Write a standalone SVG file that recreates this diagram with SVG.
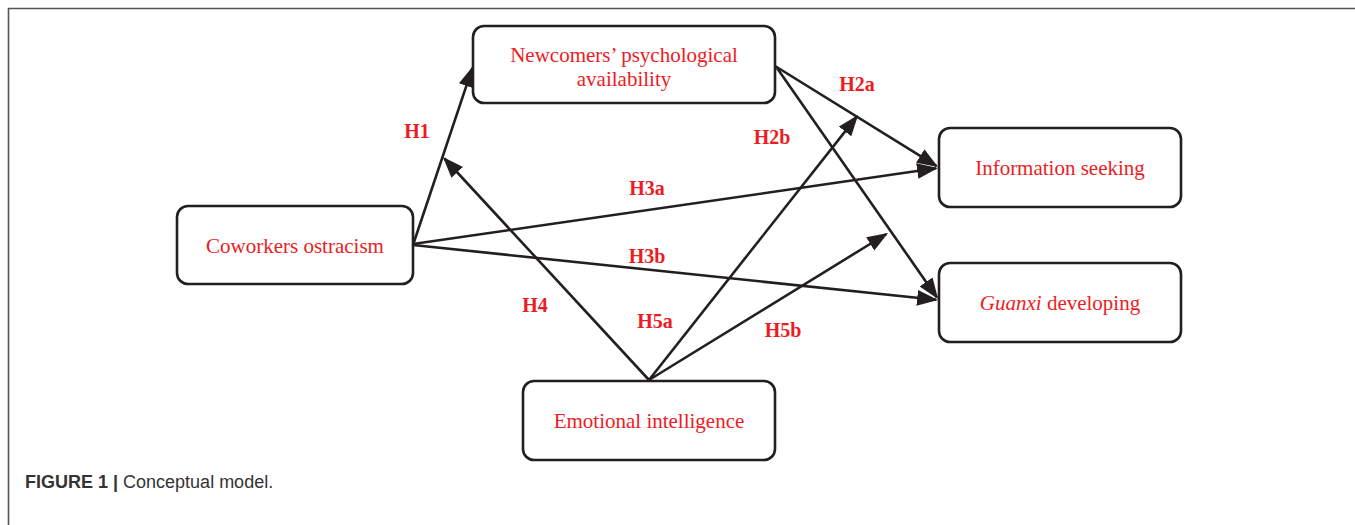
<svg xmlns="http://www.w3.org/2000/svg" width="1355" height="525" viewBox="0 0 1355 525">
<style>
.box{fill:#fff;stroke:#231f20;stroke-width:2.6}
.nt{font-family:"Liberation Serif","Times New Roman",serif;font-size:21px;fill:#ed1c24;text-anchor:middle}
.lb{font-family:"Liberation Serif","Times New Roman",serif;font-size:20px;font-weight:bold;fill:#ed1c24;text-anchor:middle}
.cn line{stroke:#231f20;stroke-width:2.6;marker-end:url(#ah)}
.cap{font-family:"Liberation Sans",Arial,sans-serif;font-size:18px;fill:#333}
</style>
<defs>
<marker id="ah" markerUnits="userSpaceOnUse" markerWidth="21" markerHeight="16" refX="18" refY="7.5" orient="auto" viewBox="0 0 20 15">
<path d="M0,0 L20,7.5 L0,15 z" fill="#231f20"/>
</marker>
</defs>
<rect width="1355" height="525" fill="#fff"/>
<g id="frame">
<path d="M8.5,525 V8.5 H1355" fill="none" stroke="#555" stroke-width="1.6"/>
</g>
<g id="connectors" class="cn">
<line x1="413" y1="245" x2="472.4" y2="67.9"/>
<line x1="649" y1="380" x2="444.4" y2="158.5"/>
<line x1="413" y1="244" x2="936" y2="168.3"/>
<line x1="413" y1="245" x2="936" y2="299.8"/>
<line x1="775" y1="66" x2="936.3" y2="165.9"/>
<line x1="777" y1="68" x2="936.9" y2="297.4"/>
<line x1="649" y1="380" x2="856.8" y2="116.6"/>
<line x1="649" y1="380" x2="886.3" y2="234"/>
</g>
<g id="node-newcomers">
<rect class="box" x="473" y="26" width="302" height="77" rx="11"/>
<text class="nt" x="624" y="62">Newcomers’ psychological</text>
<text class="nt" x="624" y="86">availability</text>
</g>
<g id="node-coworkers">
<rect class="box" x="177" y="206" width="236" height="78" rx="11"/>
<text class="nt" x="295" y="253">Coworkers ostracism</text>
</g>
<g id="node-info">
<rect class="box" x="939" y="128" width="242" height="79" rx="11"/>
<text class="nt" x="1060" y="175">Information seeking</text>
</g>
<g id="node-guanxi">
<rect class="box" x="939" y="263" width="242" height="79" rx="11"/>
<text class="nt" x="1060" y="310"><tspan font-style="italic">Guanxi</tspan> developing</text>
</g>
<g id="node-emotional">
<rect class="box" x="523" y="381" width="252" height="79" rx="11"/>
<text class="nt" x="649" y="428">Emotional intelligence</text>
</g>
<g id="labels">
<text class="lb" x="417" y="138">H1</text>
<text class="lb" x="857" y="91">H2a</text>
<text class="lb" x="772" y="144">H2b</text>
<text class="lb" x="647" y="195">H3a</text>
<text class="lb" x="647" y="263">H3b</text>
<text class="lb" x="535" y="312">H4</text>
<text class="lb" x="655" y="328">H5a</text>
<text class="lb" x="783" y="337">H5b</text>
</g>
<g id="caption">
<text class="cap" x="25" y="488"><tspan font-weight="bold">FIGURE 1 | </tspan>Conceptual model.</text>
</g>
</svg>
